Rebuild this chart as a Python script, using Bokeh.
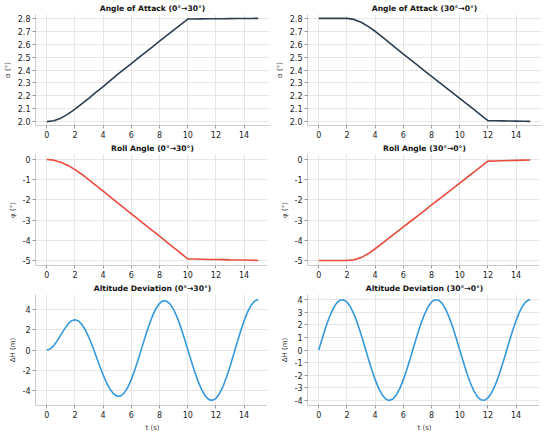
from bokeh.plotting import figure
from bokeh.layouts import gridplot
from bokeh.models import FixedTicker, Range1d, PrintfTickFormatter
from bokeh.embed import file_html
from bokeh.resources import INLINE

# ---- data ----
t_half = [0, 0.5, 1, 1.5, 2, 2.5, 3, 3.5, 4, 4.5, 5, 5.5, 6, 6.5, 7, 7.5, 8, 8.5, 9, 9.5,
          10, 10.5, 11, 11.5, 12, 12.5, 13, 13.5, 14, 14.5, 15]

aoa_up = [2.000, 2.007, 2.027, 2.058, 2.097, 2.139, 2.183, 2.228, 2.272, 2.318, 2.364, 2.407,
          2.450, 2.494, 2.537, 2.580, 2.623, 2.666, 2.709, 2.752, 2.795, 2.7955, 2.796, 2.7965,
          2.797, 2.7975, 2.798, 2.7985, 2.799, 2.7995, 2.800]

aoa_down = [2.800, 2.800, 2.800, 2.800, 2.800, 2.792, 2.770, 2.738, 2.700, 2.656, 2.612, 2.567,
            2.523, 2.480, 2.437, 2.394, 2.351, 2.308, 2.265, 2.223, 2.180, 2.137, 2.094, 2.051,
            2.008, 2.007, 2.006, 2.005, 2.004, 2.003, 2.002]

roll_up = [0.00, -0.03, -0.13, -0.29, -0.50, -0.74, -1.01, -1.29, -1.57, -1.85, -2.13, -2.41,
           -2.69, -2.97, -3.25, -3.52, -3.80, -4.08, -4.36, -4.64, -4.92, -4.93, -4.94, -4.95,
           -4.955, -4.96, -4.97, -4.975, -4.98, -4.99, -5.00]

roll_down = [-5.00, -5.00, -5.00, -5.00, -5.00, -4.97, -4.86, -4.67, -4.42, -4.15, -3.88, -3.61,
             -3.34, -3.07, -2.80, -2.53, -2.25, -1.98, -1.71, -1.44, -1.17, -0.89, -0.62, -0.35,
             -0.08, -0.07, -0.06, -0.05, -0.04, -0.03, -0.02]

t_q = [0, 0.25, 0.5, 0.75, 1, 1.25, 1.5, 1.75, 2, 2.25, 2.5, 2.75, 3, 3.25, 3.5, 3.75, 4, 4.25,
       4.5, 4.75, 5, 5.25, 5.5, 5.75, 6, 6.25, 6.5, 6.75, 7, 7.25, 7.5, 7.75, 8, 8.25, 8.5, 8.75,
       9, 9.25, 9.5, 9.75, 10, 10.25, 10.5, 10.75, 11, 11.25, 11.5, 11.75, 12, 12.25, 12.5, 12.75,
       13, 13.25, 13.5, 13.75, 14, 14.25, 14.5, 14.75, 15]

alt_up = [0.00, 0.11, 0.44, 0.93, 1.50, 2.07, 2.56, 2.89, 3.00, 2.88, 2.52, 1.96, 1.21, 0.34,
          -0.61, -1.56, -2.47, -3.27, -3.92, -4.36, -4.58, -4.55, -4.25, -3.69, -2.91, -1.95,
          -0.88, 0.26, 1.39, 2.46, 3.38, 4.12, 4.63, 4.88, 4.85, 4.55, 4.01, 3.24, 2.29, 1.21,
          0.06, -1.09, -2.18, -3.16, -3.97, -4.56, -4.92, -4.99, -4.80, -4.33, -3.62, -2.70,
          -1.64, -0.48, 0.71, 1.86, 2.90, 3.78, 4.44, 4.86, 5.00]

alt_down = [0.00, 0.93, 1.82, 2.60, 3.24, 3.70, 3.95, 3.99, 3.80, 3.41, 2.83, 2.09, 1.24, 0.31,
            -0.63, -1.53, -2.35, -3.04, -3.56, -3.89, -4.00, -3.89, -3.56, -3.04, -2.35, -1.53,
            -0.63, 0.31, 1.24, 2.09, 2.83, 3.41, 3.80, 3.99, 3.95, 3.70, 3.24, 2.60, 1.82, 0.93,
            0.00, -0.93, -1.82, -2.60, -3.24, -3.70, -3.95, -3.99, -3.80, -3.41, -2.83, -2.09,
            -1.24, -0.31, 0.63, 1.53, 2.35, 3.04, 3.56, 3.89, 4.00]

x_ticks = [0, 2, 4, 6, 8, 10, 12, 14]
aoa_ticks = [2.0, 2.1, 2.2, 2.3, 2.4, 2.5, 2.6, 2.7, 2.8]
roll_ticks = [0, -1, -2, -3, -4, -5]
alt_up_ticks = [-4, -2, 0, 2, 4]
alt_down_ticks = [-4, -3, -2, -1, 0, 1, 2, 3, 4]

NAVY = "#2c3e50"
RED = "#e74c3c"
BLUE = "#3498db"
FONT = "DejaVu Sans"


def make(title, x, y, color, ylabel, yticks, yr, yfmt, xlabel=None):
    p = figure(frame_width=234, frame_height=111, output_backend="svg", toolbar_location=None,
               x_range=Range1d(-0.8, 15.8), y_range=Range1d(*yr),
               min_border_left=0, min_border_right=3, min_border_top=0,
               min_border_bottom=0)
    p.line(x, y, line_color=color, line_width=1.6)
    p.title.text = title
    p.title.align = "center"
    p.title.text_font = FONT
    p.title.text_font_size = "7.6px"
    p.title.text_font_style = "bold"
    p.title.text_color = "#111111"
    p.title.offset = 0
    p.title.standoff = 3
    p.outline_line_color = None
    p.background_fill_color = "white"
    p.border_fill_color = "white"
    for ax in (p.xaxis[0], p.yaxis[0]):
        ax.axis_line_color = "#cccccc"
        ax.major_tick_line_color = "#999999"
        ax.minor_tick_line_color = None
        ax.major_tick_out = 3
        ax.major_tick_in = 0
        ax.major_label_text_font = FONT
        ax.major_label_text_font_size = "8px"
        ax.major_label_text_color = "#222222"
        ax.major_label_standoff = 2
        ax.axis_label_text_font = FONT
        ax.axis_label_text_font_size = "7px"
        ax.axis_label_text_font_style = "normal"
        ax.axis_label_text_color = "#333333"
        ax.axis_label_standoff = 3
    p.xaxis.ticker = FixedTicker(ticks=x_ticks)
    p.xaxis.formatter = PrintfTickFormatter(format="%d")
    p.yaxis.ticker = FixedTicker(ticks=yticks)
    p.yaxis.formatter = PrintfTickFormatter(format=yfmt)
    p.yaxis.axis_label = ylabel
    if xlabel:
        p.xaxis.axis_label = xlabel
    p.xgrid.ticker = FixedTicker(ticks=x_ticks)
    p.ygrid.ticker = FixedTicker(ticks=yticks)
    p.grid.grid_line_color = "#e6e6e6"
    p.grid.grid_line_width = 1
    return p


p1 = make("Angle of Attack (0°→30°)", t_half, aoa_up, NAVY, "α (°)", aoa_ticks, (1.97, 2.83), "%.1f")
p2 = make("Angle of Attack (30°→0°)", t_half, aoa_down, NAVY, "α (°)", aoa_ticks, (1.97, 2.83), "%.1f")
p3 = make("Roll Angle (0°→30°)", t_half, roll_up, RED, "φ (°)", roll_ticks, (-5.25, 0.25), "%d")
p4 = make("Roll Angle (30°→0°)", t_half, roll_down, RED, "φ (°)", roll_ticks, (-5.25, 0.25), "%d")
p5 = make("Altitude Deviation (0°→30°)", t_q, alt_up, BLUE, "ΔH (m)", alt_up_ticks, (-5.5, 5.5), "%d",
          xlabel="t (s)")
p6 = make("Altitude Deviation (30°→0°)", t_q, alt_down, BLUE, "ΔH (m)", alt_down_ticks, (-4.4, 4.4), "%d",
          xlabel="t (s)")

grid = gridplot([[p1, p2], [p3, p4], [p5, p6]], toolbar_location=None)

open("out.html", "w").write(file_html(grid, INLINE))
